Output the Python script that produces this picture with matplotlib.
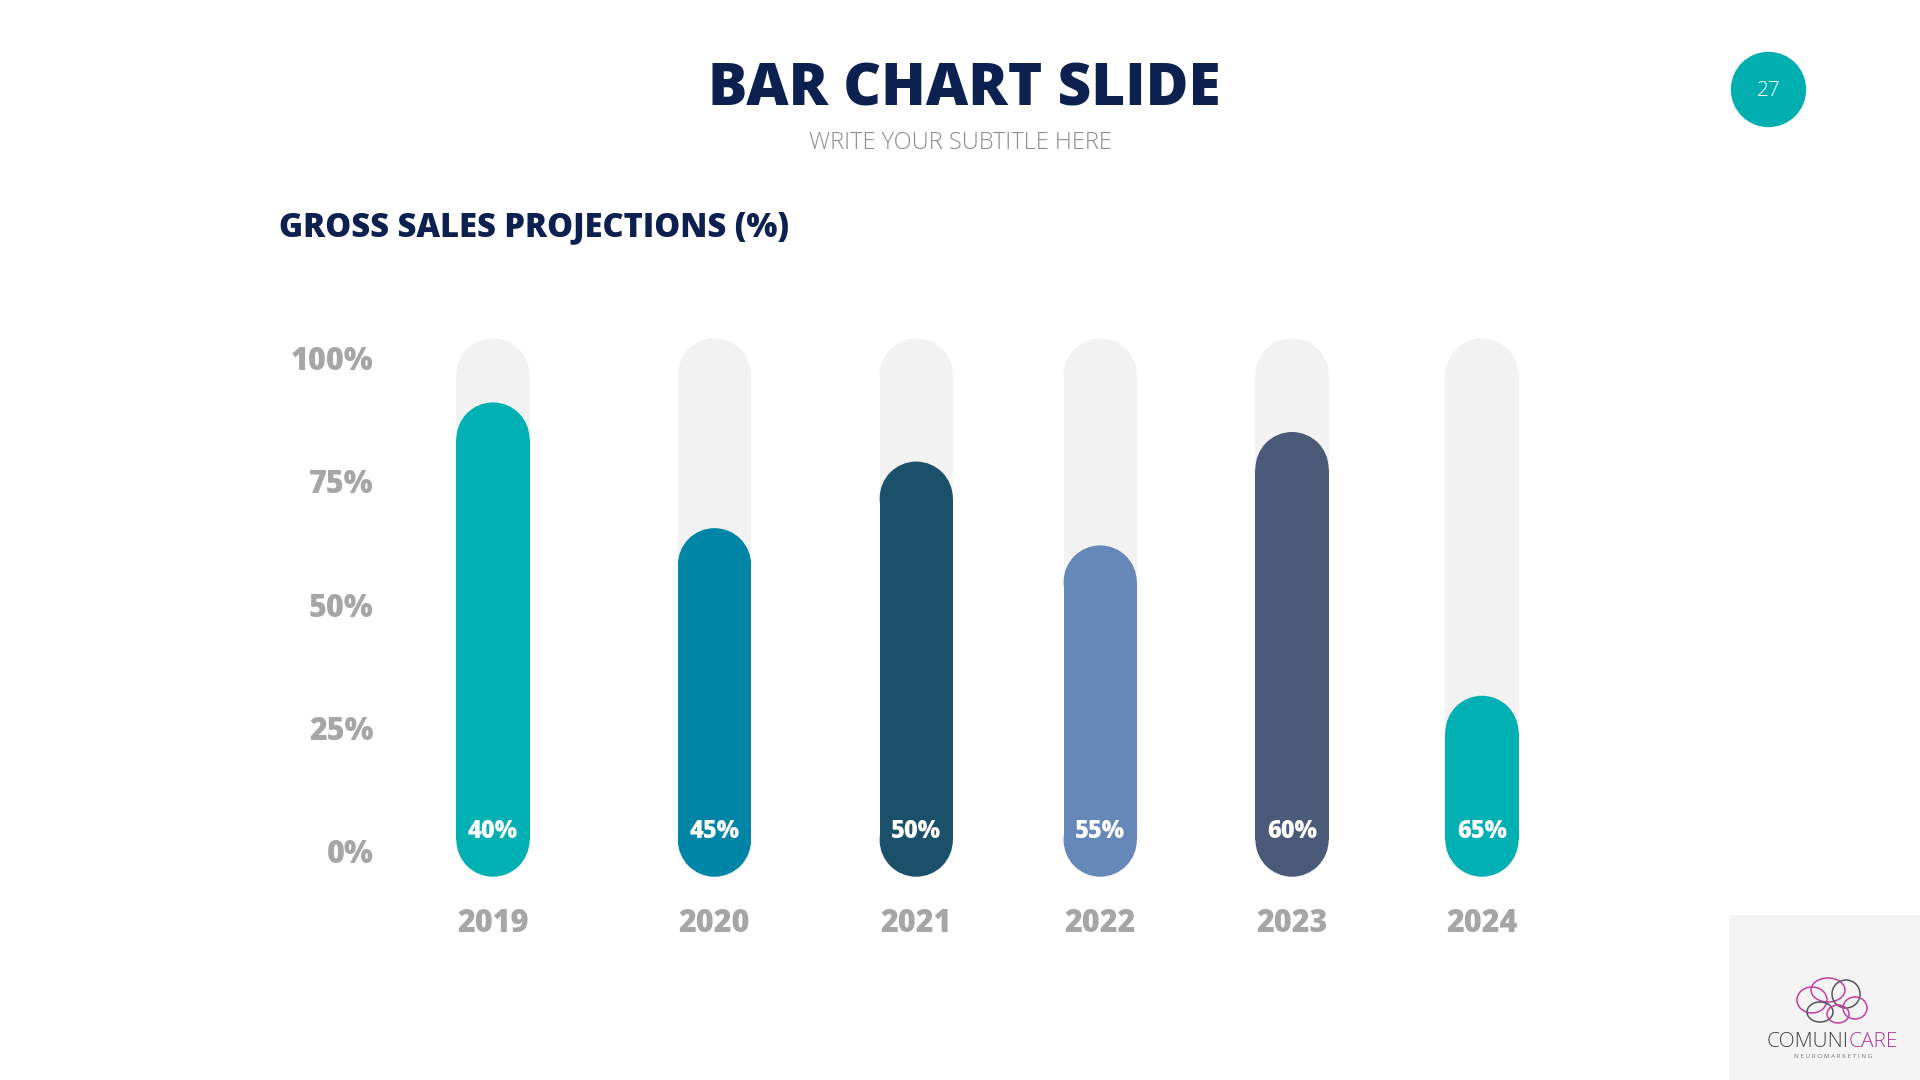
import matplotlib
matplotlib.use("Agg")
import matplotlib.pyplot as plt
from matplotlib.patches import Ellipse, Rectangle

# data
years = ["2019", "2020", "2021", "2022", "2023", "2024"]
bar_values = [91, 65.5, 79, 62, 85, 31.5]          # where each coloured bar ends (%)
value_labels = ["40%", "45%", "50%", "55%", "60%", "65%"]
y_ticks = [0, 25, 50, 75, 100]
y_tick_labels = ["0%", "25%", "50%", "75%", "100%"]

# layout / style
slot_x = [0, 1.12, 2.14, 3.07, 4.04, 5.0]
bar_colors = ["#00b0b3", "#0085a6", "#1a5069", "#6688b8", "#4a5a78", "#00b0b3"]
track_color = "#f2f2f2"
navy = "#0d2150"
grey = "#a6a6a6"
bar_w = 0.37
base = -5.2
track_top = 104

plt.rcParams["font.family"] = ["Open Sans", "DejaVu Sans"]

fig = plt.figure(figsize=(19.2, 10.8), dpi=100)
fig.patch.set_facecolor("white")

ax = fig.add_axes([400 / 1920, 0.1572, 1200 / 1920, 0.5478])
ax.set_xlim(-0.470, 5.597)
ax.set_ylim(-12, 108)
for s in ax.spines.values():
    s.set_visible(False)
ax.set_xticks([])
ax.set_yticks(y_ticks)
ax.set_yticklabels(y_tick_labels, fontsize=22, fontweight="heavy", color=grey)
ax.tick_params(axis="y", length=0, pad=19)

# y units per x unit on screen, so the bar ends come out as half circles
fig.canvas.draw()
p0 = ax.transData.transform((0, 0))
p1 = ax.transData.transform((1, 1))
aspect = (p1[0] - p0[0]) / (p1[1] - p0[1])
ry = bar_w / 2 * aspect


def pill(x, y0, y1, color):
    ax.add_patch(Rectangle((x - bar_w / 2, y0 + ry), bar_w, y1 - y0 - 2 * ry,
                           facecolor=color, edgecolor="none", clip_on=False))
    for yc in (y0 + ry, y1 - ry):
        ax.add_patch(Ellipse((x, yc), bar_w, 2 * ry, facecolor=color,
                             edgecolor="none", clip_on=False))


for x, v, c, lab, yr in zip(slot_x, bar_values, bar_colors, value_labels, years):
    pill(x, base, track_top, track_color)
    pill(x, base, v, c)
    ax.text(x, 3.9, lab, ha="center", va="center", color="white",
            fontsize=17, fontweight="heavy")
    ax.text(x, -14.8, yr, ha="center", va="center", color=grey,
            fontsize=22, fontweight="heavy", clip_on=False)

# headings
fig.text(964 / 1920, 1 - 90 / 1080, "BAR CHART SLIDE", ha="center", va="center",
         fontsize=42, fontweight="heavy", color=navy)
fig.text(960 / 1920, 1 - 143 / 1080, "WRITE YOUR SUBTITLE HERE", ha="center",
         va="center", fontsize=17, fontweight="light", color="#8c8c8c")
fig.text(279 / 1920, 1 - 227 / 1080, "GROSS SALES PROJECTIONS (%)", ha="left",
         va="center", fontsize=23.5, fontweight="heavy", color=navy)

# page number badge
fig.patches.append(Ellipse((1768.5 / 1920, 1 - 89.5 / 1080), 75.4 / 1920, 75.4 / 1080,
                           transform=fig.transFigure, facecolor="#00aeb0",
                           edgecolor="none"))
fig.text(1768.5 / 1920, 1 - 91.5 / 1080, "27", ha="center", va="center",
         fontsize=15, fontweight="light", color="white")

# logo corner
fig.patches.append(Rectangle((1729 / 1920, 0), 191 / 1920, 165 / 1080,
                             transform=fig.transFigure, facecolor="#f4f4f4",
                             edgecolor="none"))
brain = [((1812, 1000), 30, 26, "#c040a0"), ((1828, 990), 34, 24, "#c040a0"),
         ((1846, 994), 28, 28, "#555555"), ((1855, 1008), 24, 22, "#c040a0"),
         ((1820, 1012), 26, 20, "#555555"), ((1838, 1014), 22, 18, "#c040a0")]
for (cx, cy), w, h, col in brain:
    fig.patches.append(Ellipse((cx / 1920, 1 - cy / 1080), w / 1920, h / 1080,
                               transform=fig.transFigure, facecolor="none",
                               edgecolor=col, linewidth=1.1))
fig.text(1849 / 1920, 1 - 1042 / 1080, "COMUNI", ha="right", va="center",
         fontsize=15, fontweight="light", color="#444444")
fig.text(1849 / 1920, 1 - 1042 / 1080, "CARE", ha="left", va="center",
         fontsize=15, fontweight="light", color="#b03a9c")
fig.text(1833 / 1920, 1 - 1056 / 1080, "N E U R O M A R K E T I N G", ha="center",
         va="center", fontsize=4.5, color="#777777")

fig.savefig("out.png", dpi=100, facecolor="white")
